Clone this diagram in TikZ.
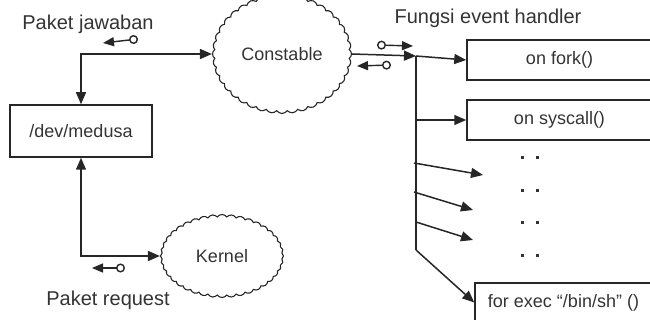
\documentclass[tikz,border=0pt]{standalone}
\usepackage{fontspec}
\setmainfont{Liberation Sans}
\usetikzlibrary{arrows.meta, shapes.symbols, positioning}
\tikzset{
    lbl/.style={font=\fontsize{20}{23}\selectfont, text=black!80},
    kotak/.style={draw=black!85, line width=1.5pt, inner sep=0pt,
        font=\fontsize{18}{21}\selectfont, text=black!80},
    awan/.style n args={2}{cloud, draw=black!85, line width=1.1pt, cloud puffs=40,
        cloud puff arc=110, inner sep=0pt, minimum width=#1, minimum height=#2,
        font=\fontsize{18}{21}\selectfont, text=black!80},
    link/.style={line width=1.5pt, draw=black!85},
    tip/.style={-{Triangle[length=12pt,width=10pt]}},
    tips/.style={{Triangle[length=12pt,width=10pt]}-{Triangle[length=12pt,width=10pt]}},
    pkt/.style={line width=1.4pt, draw=black!85,
        {Circle[open,length=9pt,width=9pt,fill=white]}-{Triangle[length=11pt,width=9pt]}},
}

\begin{document}
\begin{tikzpicture}[x=1pt, y=-1pt]
    \useasboundingbox (0,0) rectangle (650,320);
    \clip (0,0) rectangle (650,320);
    % nodes
    \node[kotak, minimum width=142pt, minimum height=52pt] (medusa) at (81,131) {/dev/medusa};
    \node[awan={139pt}{93pt}] (constable) at (282,54) {Constable};
    \node[awan={123pt}{83pt}] (kernel) at (222,256) {Kernel};
    \node[kotak, minimum width=185pt, minimum height=40pt] (fork) at (559.5,60) {on fork()};
    \node[kotak, minimum width=185pt, minimum height=40pt] (syscall) at (559.5,120) {on syscall()};
    \node[kotak, minimum width=177pt, minimum height=39pt] (exec) at (563.5,302.5) {for exec “/bin/sh” ()};
    % labels
    \node[lbl] (jawaban) at (88,24) {Paket jawaban};
    \node[lbl] (request) at (108,300) {Paket request};
    \node[lbl] (fungsi) at (488,18) {Fungsi event handler};
    % trunk
    \coordinate (t0) at (416,56);
    \coordinate (t1) at (416,120);
    \coordinate (t4) at (416,250);
    \coordinate (s1) at (414,163);
    \coordinate (s2) at (414,192);
    \coordinate (s3) at (416,222);
    \coordinate (e1) at (483,175);
    \coordinate (e2) at (473,210);
    \coordinate (e3) at (473,240);
    \draw[link, tips] (medusa.north) |- (constable.west);
    \draw[link, tips] (medusa.south) |- (kernel.west);
    \draw[link, tip] (constable.east) -- (t0);
    \draw[link, tip] (t0) -- (fork.west);
    \draw[link] (t0) -- (t4);
    \draw[link, tip] (t1) -- (syscall.west);
    \draw[link, tip] (s1) -- (e1);
    \draw[link, tip] (s2) -- (e2);
    \draw[link, tip] (s3) -- (e3);
    \draw[link, tip] (t4) -- (exec.west);
    % paket arrows
    \coordinate (ja1) at (138,39);
    \coordinate (ja2) at (103,43);
    \coordinate (cb1) at (377,45);
    \coordinate (cb2) at (413,46);
    \coordinate (cc1) at (391,65);
    \coordinate (cc2) at (357,66);
    \coordinate (rq1) at (125,268);
    \coordinate (rq2) at (92,268);
    \draw[pkt] (ja1) -- (ja2);
    \draw[pkt] (cb1) -- (cb2);
    \draw[pkt] (cc1) -- (cc2);
    \draw[pkt] (rq1) -- (rq2);
    % dots
    \foreach \y in {158,191,223,256}{
        \fill[black!80] (520.5,\y-1.5) rectangle ++(3,3);
        \fill[black!80] (535.5,\y-1.5) rectangle ++(3,3);
    }
\end{tikzpicture}
\end{document}
